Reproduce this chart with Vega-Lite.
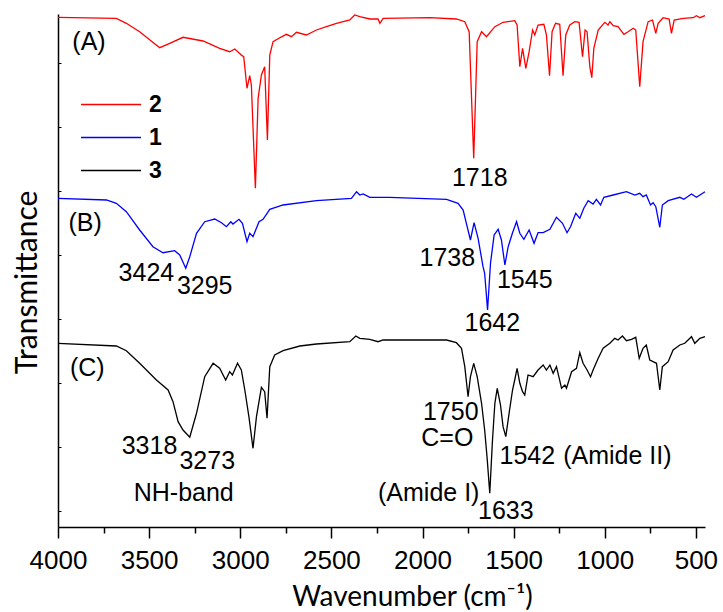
{
 "$schema": "https://vega.github.io/schema/vega-lite/v6.json",
 "width": 647,
 "height": 513,
 "autosize": {"type": "none"},
 "padding": {"left": 58, "top": 14, "right": 18, "bottom": 85},
 "background": "white",
 "config": {"view": {"stroke": null}, "font": "Liberation Sans"},
 "datasets": {
  "spectra": [
   {"s":"2","w":4000,"t":509.7},{"s":"2","w":3680,"t":508.7},{"s":"2","w":3625,"t":503.7},{"s":"2","w":3552,"t":495.3},{"s":"2","w":3442,"t":479.3},{"s":"2","w":3387,"t":483.7},{"s":"2","w":3314,"t":489.7},{"s":"2","w":3204,"t":486},{"s":"2","w":3113,"t":478.7},{"s":"2","w":3058,"t":475.3},{"s":"2","w":3030,"t":478},{"s":"2","w":2994,"t":472},{"s":"2","w":2981,"t":470.3},{"s":"2","w":2963,"t":438.7},{"s":"2","w":2948,"t":451.3},{"s":"2","w":2939,"t":442},{"s":"2","w":2917,"t":338.7},{"s":"2","w":2902,"t":428.7},{"s":"2","w":2884,"t":452},{"s":"2","w":2866,"t":460.3},{"s":"2","w":2851,"t":387},{"s":"2","w":2838,"t":472},{"s":"2","w":2820,"t":485.3},{"s":"2","w":2783,"t":489.3},{"s":"2","w":2747,"t":492.7},{"s":"2","w":2719,"t":490.3},{"s":"2","w":2692,"t":494.7},{"s":"2","w":2637,"t":492},{"s":"2","w":2582,"t":497},{"s":"2","w":2527,"t":500.3},{"s":"2","w":2472,"t":503.7},{"s":"2","w":2399,"t":507},{"s":"2","w":2372,"t":512},{"s":"2","w":2344,"t":510.3},{"s":"2","w":2289,"t":508},{"s":"2","w":2244,"t":508},{"s":"2","w":2234,"t":503.7},{"s":"2","w":2216,"t":508.7},{"s":"2","w":1960,"t":509.3},{"s":"2","w":1814,"t":508},{"s":"2","w":1768,"t":505.3},{"s":"2","w":1744,"t":495.3},{"s":"2","w":1719,"t":368.7},{"s":"2","w":1700,"t":485.3},{"s":"2","w":1676,"t":495.3},{"s":"2","w":1649,"t":490.3},{"s":"2","w":1603,"t":500.3},{"s":"2","w":1558,"t":504.7},{"s":"2","w":1494,"t":506.3},{"s":"2","w":1481,"t":502},{"s":"2","w":1466,"t":460.3},{"s":"2","w":1451,"t":478.7},{"s":"2","w":1433,"t":458.7},{"s":"2","w":1415,"t":475.3},{"s":"2","w":1396,"t":497},{"s":"2","w":1384,"t":492},{"s":"2","w":1366,"t":502},{"s":"2","w":1334,"t":502.7},{"s":"2","w":1320,"t":492},{"s":"2","w":1303,"t":451.3},{"s":"2","w":1289,"t":495.3},{"s":"2","w":1270,"t":503.7},{"s":"2","w":1247,"t":502.7},{"s":"2","w":1229,"t":451.3},{"s":"2","w":1214,"t":492},{"s":"2","w":1192,"t":502},{"s":"2","w":1164,"t":505.3},{"s":"2","w":1141,"t":504.7},{"s":"2","w":1122,"t":470.3},{"s":"2","w":1108,"t":497},{"s":"2","w":1097,"t":495.3},{"s":"2","w":1082,"t":460.3},{"s":"2","w":1071,"t":449.3},{"s":"2","w":1060,"t":478.7},{"s":"2","w":1036,"t":497},{"s":"2","w":1000,"t":504.7},{"s":"2","w":982,"t":502},{"s":"2","w":972,"t":505.3},{"s":"2","w":954,"t":501.3},{"s":"2","w":927,"t":500.3},{"s":"2","w":895,"t":492.7},{"s":"2","w":872,"t":495.3},{"s":"2","w":844,"t":498.7},{"s":"2","w":830,"t":497},{"s":"2","w":808,"t":440.3},{"s":"2","w":790,"t":485.3},{"s":"2","w":762,"t":505.3},{"s":"2","w":738,"t":507},{"s":"2","w":720,"t":493.7},{"s":"2","w":707,"t":503.7},{"s":"2","w":680,"t":509.3},{"s":"2","w":647,"t":508},{"s":"2","w":634,"t":493.7},{"s":"2","w":619,"t":507},{"s":"2","w":570,"t":508.7},{"s":"2","w":515,"t":509.3},{"s":"2","w":497,"t":511.3},{"s":"2","w":478,"t":509.3},{"s":"2","w":450,"t":511.3},
   {"s":"1","w":4000,"t":328.7},{"s":"1","w":3734,"t":327},{"s":"1","w":3680,"t":323.7},{"s":"1","w":3625,"t":315.3},{"s":"1","w":3552,"t":297},{"s":"1","w":3479,"t":280.3},{"s":"1","w":3424,"t":274.3},{"s":"1","w":3360,"t":276.3},{"s":"1","w":3332,"t":272},{"s":"1","w":3299,"t":258.7},{"s":"1","w":3277,"t":270.3},{"s":"1","w":3240,"t":293.7},{"s":"1","w":3195,"t":305.3},{"s":"1","w":3140,"t":308},{"s":"1","w":3103,"t":304.3},{"s":"1","w":3076,"t":300.3},{"s":"1","w":3052,"t":305.3},{"s":"1","w":3040,"t":303},{"s":"1","w":3007,"t":307.7},{"s":"1","w":2988,"t":303.7},{"s":"1","w":2963,"t":285.3},{"s":"1","w":2948,"t":293.7},{"s":"1","w":2930,"t":290.3},{"s":"1","w":2897,"t":305.3},{"s":"1","w":2875,"t":307.7},{"s":"1","w":2838,"t":317.7},{"s":"1","w":2765,"t":322},{"s":"1","w":2582,"t":326.3},{"s":"1","w":2390,"t":328.7},{"s":"1","w":2362,"t":335.3},{"s":"1","w":2344,"t":332},{"s":"1","w":2326,"t":333},{"s":"1","w":2289,"t":329.7},{"s":"1","w":2180,"t":329.7},{"s":"1","w":1868,"t":327.7},{"s":"1","w":1805,"t":323.7},{"s":"1","w":1777,"t":317},{"s":"1","w":1755,"t":300.3},{"s":"1","w":1737,"t":287},{"s":"1","w":1717,"t":304.3},{"s":"1","w":1695,"t":288.7},{"s":"1","w":1668,"t":260.3},{"s":"1","w":1659,"t":253.7},{"s":"1","w":1643,"t":217},{"s":"1","w":1627,"t":263.7},{"s":"1","w":1607,"t":292},{"s":"1","w":1585,"t":297.7},{"s":"1","w":1567,"t":287},{"s":"1","w":1548,"t":262},{"s":"1","w":1530,"t":280.3},{"s":"1","w":1506,"t":294.3},{"s":"1","w":1484,"t":305.3},{"s":"1","w":1466,"t":293.7},{"s":"1","w":1444,"t":287.7},{"s":"1","w":1415,"t":297},{"s":"1","w":1388,"t":283.7},{"s":"1","w":1366,"t":294.3},{"s":"1","w":1338,"t":294.3},{"s":"1","w":1301,"t":297.7},{"s":"1","w":1265,"t":309.7},{"s":"1","w":1232,"t":303.7},{"s":"1","w":1207,"t":294.3},{"s":"1","w":1188,"t":300.3},{"s":"1","w":1159,"t":313.7},{"s":"1","w":1137,"t":308.7},{"s":"1","w":1115,"t":318.7},{"s":"1","w":1091,"t":326.3},{"s":"1","w":1064,"t":323},{"s":"1","w":1046,"t":327.7},{"s":"1","w":1023,"t":322},{"s":"1","w":1005,"t":329.7},{"s":"1","w":954,"t":332},{"s":"1","w":881,"t":335.3},{"s":"1","w":835,"t":332},{"s":"1","w":808,"t":333.7},{"s":"1","w":790,"t":330.3},{"s":"1","w":772,"t":332},{"s":"1","w":749,"t":322},{"s":"1","w":735,"t":324.3},{"s":"1","w":720,"t":320.3},{"s":"1","w":698,"t":299.7},{"s":"1","w":684,"t":322},{"s":"1","w":652,"t":326.3},{"s":"1","w":588,"t":329.7},{"s":"1","w":566,"t":327.7},{"s":"1","w":524,"t":333},{"s":"1","w":497,"t":329.7},{"s":"1","w":450,"t":335.3},
   {"s":"3","w":4000,"t":183.7},{"s":"3","w":3680,"t":181},{"s":"3","w":3625,"t":176.3},{"s":"3","w":3552,"t":163.7},{"s":"3","w":3460,"t":147},{"s":"3","w":3396,"t":137},{"s":"3","w":3369,"t":125.3},{"s":"3","w":3341,"t":105.3},{"s":"3","w":3314,"t":97},{"s":"3","w":3277,"t":89.7},{"s":"3","w":3240,"t":113.7},{"s":"3","w":3195,"t":150.3},{"s":"3","w":3149,"t":163.7},{"s":"3","w":3113,"t":158.7},{"s":"3","w":3080,"t":147},{"s":"3","w":3058,"t":155.3},{"s":"3","w":3043,"t":152},{"s":"3","w":3015,"t":163.7},{"s":"3","w":2994,"t":157},{"s":"3","w":2975,"t":137},{"s":"3","w":2952,"t":109.7},{"s":"3","w":2930,"t":78.7},{"s":"3","w":2911,"t":110.3},{"s":"3","w":2884,"t":139.7},{"s":"3","w":2866,"t":135.3},{"s":"3","w":2853,"t":108.7},{"s":"3","w":2838,"t":160.3},{"s":"3","w":2811,"t":172},{"s":"3","w":2765,"t":176.3},{"s":"3","w":2673,"t":181},{"s":"3","w":2582,"t":183},{"s":"3","w":2399,"t":185.3},{"s":"3","w":2366,"t":191},{"s":"3","w":2344,"t":188.7},{"s":"3","w":2289,"t":187.7},{"s":"3","w":2244,"t":185.3},{"s":"3","w":2216,"t":187},{"s":"3","w":1868,"t":187},{"s":"3","w":1814,"t":184.3},{"s":"3","w":1786,"t":178.7},{"s":"3","w":1768,"t":160.3},{"s":"3","w":1750,"t":130.3},{"s":"3","w":1737,"t":150.3},{"s":"3","w":1719,"t":163.7},{"s":"3","w":1700,"t":150.3},{"s":"3","w":1676,"t":123.7},{"s":"3","w":1659,"t":97},{"s":"3","w":1646,"t":70.3},{"s":"3","w":1631,"t":33.7},{"s":"3","w":1616,"t":87},{"s":"3","w":1603,"t":123.7},{"s":"3","w":1590,"t":138.7},{"s":"3","w":1572,"t":122},{"s":"3","w":1558,"t":100.3},{"s":"3","w":1543,"t":90.3},{"s":"3","w":1525,"t":113.7},{"s":"3","w":1506,"t":137},{"s":"3","w":1494,"t":147},{"s":"3","w":1481,"t":158.7},{"s":"3","w":1466,"t":143.7},{"s":"3","w":1451,"t":135.3},{"s":"3","w":1439,"t":132},{"s":"3","w":1421,"t":152},{"s":"3","w":1393,"t":150.3},{"s":"3","w":1366,"t":157},{"s":"3","w":1338,"t":162},{"s":"3","w":1320,"t":157},{"s":"3","w":1301,"t":162},{"s":"3","w":1283,"t":153.7},{"s":"3","w":1265,"t":160.3},{"s":"3","w":1237,"t":138.7},{"s":"3","w":1219,"t":142},{"s":"3","w":1210,"t":138.7},{"s":"3","w":1182,"t":155.3},{"s":"3","w":1155,"t":158.7},{"s":"3","w":1137,"t":174.3},{"s":"3","w":1119,"t":163.7},{"s":"3","w":1097,"t":157},{"s":"3","w":1078,"t":150.3},{"s":"3","w":1064,"t":157},{"s":"3","w":1036,"t":168.7},{"s":"3","w":1009,"t":178.7},{"s":"3","w":972,"t":183.7},{"s":"3","w":945,"t":188.7},{"s":"3","w":927,"t":187},{"s":"3","w":903,"t":191},{"s":"3","w":881,"t":186.3},{"s":"3","w":853,"t":187.7},{"s":"3","w":830,"t":189.7},{"s":"3","w":811,"t":168.7},{"s":"3","w":790,"t":178.7},{"s":"3","w":772,"t":182},{"s":"3","w":753,"t":167},{"s":"3","w":735,"t":165.3},{"s":"3","w":716,"t":163.7},{"s":"3","w":698,"t":137},{"s":"3","w":684,"t":160.3},{"s":"3","w":652,"t":165.3},{"s":"3","w":625,"t":177},{"s":"3","w":588,"t":182},{"s":"3","w":561,"t":183.7},{"s":"3","w":524,"t":190.3},{"s":"3","w":506,"t":183.7},{"s":"3","w":478,"t":188.7},{"s":"3","w":450,"t":190.3}
  ],
  "notes": [
   {"w":3830,"t":485,"label":"(A)"},
   {"w":1686,"t":349,"label":"1718"},
   {"w":3851,"t":304.5,"label":"(B)"},
   {"w":3515,"t":254.5,"label":"3424"},
   {"w":3195,"t":241,"label":"3295"},
   {"w":1864,"t":269.5,"label":"1738"},
   {"w":1439,"t":247,"label":"1545"},
   {"w":1617,"t":204,"label":"1642"},
   {"w":3839,"t":159,"label":"(C)"},
   {"w":3498,"t":81,"label":"3318"},
   {"w":3181,"t":66,"label":"3273"},
   {"w":3310,"t":34.5,"label":"NH-band"},
   {"w":1845,"t":115.5,"label":"1750"},
   {"w":1864,"t":89.5,"label":"C=O"},
   {"w":1425,"t":71,"label":"1542"},
   {"w":931,"t":71,"label":"(Amide II)"},
   {"w":1966,"t":34.5,"label":"(Amide I)"},
   {"w":1543,"t":16,"label":"1633"}
  ]
 },
 "layer": [
  {
   "data": {"name": "spectra"},
   "mark": {"type": "line", "strokeWidth": 1.3},
   "encoding": {
    "x": {
     "field": "w", "type": "quantitative",
     "scale": {"domain": [450, 4000], "reverse": true, "nice": false, "zero": false},
     "axis": {
      "values": [4000, 3750, 3500, 3250, 3000, 2750, 2500, 2250, 2000, 1750, 1500, 1250, 1000, 750, 500],
      "format": "d",
      "labelExpr": "datum.value % 500 === 0 ? datum.label : ''",
      "tickSize": {"condition": {"test": "datum.value % 500 === 0", "value": 11}, "value": 6},
      "grid": false,
      "domainColor": "black", "domainWidth": 1.5,
      "tickColor": "black", "tickWidth": 1.5,
      "labelFont": "Liberation Sans", "labelFontSize": 26, "labelColor": "black",
      "labelPadding": 9, "labelFlush": false, "labelOverlap": false, "labelBound": false,
      "title": "Wavenumber (cm⁻¹)",
      "titleFont": "Lato", "titleFontSize": 28, "titleFontWeight": "normal", "titleColor": "black",
      "titleX": 354, "titleY": 70, "titleAlign": "center", "titleBaseline": "middle"
     }
    },
    "y": {
     "field": "t", "type": "quantitative",
     "scale": {"domain": [0, 513], "nice": false, "zero": false},
     "axis": {
      "values": [16, 32, 48, 64, 80, 96, 112, 128, 144, 160, 176, 192, 208, 224, 240, 256, 272, 288, 304, 320, 336, 352, 368, 384, 400, 416, 432, 448, 464, 480, 496],
      "labels": false, "grid": false,
      "tickSize": -3, "tickColor": "black", "tickWidth": 1,
      "domainColor": "black", "domainWidth": 1.5,
      "title": "Transmittance",
      "titleFont": "Lato", "titleFontSize": 30, "titleFontWeight": "normal", "titleColor": "black",
      "titleX": -31, "titleY": 268, "titleAngle": -90, "titleAlign": "center", "titleBaseline": "middle"
     }
    },
    "color": {
     "field": "s", "type": "nominal",
     "scale": {"domain": ["2", "1", "3"], "range": ["#ff0000", "#0000ff", "#000000"]},
     "legend": {
      "orient": "none", "legendX": 22, "legendY": 74, "title": null,
      "symbolType": "stroke", "symbolSize": 3600, "symbolStrokeWidth": 1.5,
      "labelFont": "Liberation Sans", "labelFontSize": 23, "labelFontWeight": "bold", "labelColor": "black",
      "labelOffset": 7, "rowPadding": 0, "clipHeight": 33, "padding": 0
     }
    }
   }
  },
  {
   "data": {"name": "notes"},
   "mark": {"type": "text", "font": "Liberation Sans", "fontSize": 25, "align": "center", "baseline": "middle", "color": "black"},
   "encoding": {
    "x": {"field": "w", "type": "quantitative"},
    "y": {"field": "t", "type": "quantitative"},
    "text": {"field": "label"}
   }
  }
 ]
}
